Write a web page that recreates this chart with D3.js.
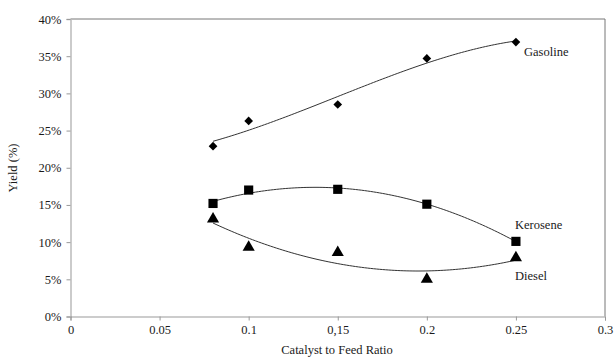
<!DOCTYPE html>
<html><head><meta charset="utf-8">
<script src="https://cdn.jsdelivr.net/npm/d3@7"></script>
<style>body{margin:0;background:#fff}svg{display:block}</style>
</head><body><svg id="c" width="614" height="358"></svg>
<script>
const ratios = [0.08, 0.1, 0.15, 0.2, 0.25];
const gasoline = [22.9, 26.3, 28.5, 34.7, 36.9];
const kerosene = [15.2, 17.0, 17.1, 15.1, 10.1];
const diesel = [13.1, 9.3, 8.6, 5.0, 7.9];
const xTicks = [0, 0.05, 0.1, 0.15, 0.2, 0.25, 0.3];
const xTickLabels = ["0", "0.05", "0.1", "0,15", "0.2", "0.25", "0.3"];
const yTicks = [0, 5, 10, 15, 20, 25, 30, 35, 40];
const seriesNames = ["Gasoline", "Kerosene", "Diesel"];
const fitOrders = [3, 2, 2];

const FONT = "'Liberation Serif', 'Times New Roman', serif";
const svg = d3.select("#c").style("font-family", FONT);
const x = d3.scaleLinear().domain([0, 0.3]).range([70.5, 605]);
const y = d3.scaleLinear().domain([0, 40]).range([316.5, 19]);

function polyfit(xs, ys, n) {
  const m = n + 1;
  const A = Array.from({length: m}, () => new Array(m + 1).fill(0));
  for (let r = 0; r < m; r++) {
    for (let c = 0; c < m; c++) A[r][c] = d3.sum(xs, v => Math.pow(v, r + c));
    A[r][m] = d3.sum(xs, (v, i) => Math.pow(v, r) * ys[i]);
  }
  for (let i = 0; i < m; i++) {
    let p = i;
    for (let k = i + 1; k < m; k++) if (Math.abs(A[k][i]) > Math.abs(A[p][i])) p = k;
    [A[i], A[p]] = [A[p], A[i]];
    for (let k = 0; k < m; k++) if (k !== i) {
      const f = A[k][i] / A[i][i];
      for (let c = i; c <= m; c++) A[k][c] -= f * A[i][c];
    }
  }
  const coef = A.map((row, i) => row[m] / row[i]);
  return v => coef.reduce((s, c, i) => s + c * Math.pow(v, i), 0);
}

// frame
svg.append("line").attr("x1", x(0)).attr("x2", x(0.3)).attr("y1", y(40)).attr("y2", y(40)).attr("stroke", "#777");
svg.append("line").attr("x1", x(0.3)).attr("x2", x(0.3)).attr("y1", y(40)).attr("y2", y(0)).attr("stroke", "#777");

function styleText(sel) {
  sel.attr("font-family", FONT).style("font-family", FONT).style("font-size", "12.5px").attr("fill", "#1a1a1a");
}

const yAxis = svg.append("g").attr("transform", `translate(${x(0)},0)`)
  .call(d3.axisLeft(y).tickValues(yTicks).tickFormat(d => d + "%").tickSize(4).tickPadding(5));
yAxis.attr("font-family", FONT);
yAxis.select(".domain").attr("stroke", "#bbb").attr("stroke-width", 1.5);
yAxis.selectAll(".tick line").attr("stroke", "#999");
styleText(yAxis.selectAll("text"));

const xAxis = svg.append("g").attr("transform", `translate(0,${y(0)})`)
  .call(d3.axisBottom(x).tickValues(xTicks).tickFormat((d, i) => xTickLabels[i]).tickSize(4).tickPadding(5));
xAxis.attr("font-family", FONT);
xAxis.select(".domain").attr("stroke", "#999");
xAxis.selectAll(".tick line").attr("stroke", "#999");
styleText(xAxis.selectAll("text"));

styleText(svg.append("text").attr("x", 337).attr("y", 354).attr("text-anchor", "middle").text("Catalyst to Feed Ratio"));
styleText(svg.append("text").attr("transform", "translate(17,168) rotate(-90)").attr("text-anchor", "middle").text("Yield (%)"));

const allSeries = [gasoline, kerosene, diesel];
const line = d3.line();
allSeries.forEach((vals, si) => {
  const f = polyfit(ratios, vals, fitOrders[si]);
  const xs = d3.range(0, 101).map(i => 0.08 + (0.25 - 0.08) * i / 100);
  svg.append("path").attr("d", line(xs.map(v => [x(v), y(f(v))])))
    .attr("fill", "none").attr("stroke", "#333").attr("stroke-width", 1);
});

const symbols = [d3.symbolDiamond2, d3.symbolSquare, d3.symbolTriangle];
const sizes = [48, 84, 64];
allSeries.forEach((vals, si) => {
  svg.append("g").selectAll("path").data(vals).join("path")
    .attr("transform", (d, i) => `translate(${x(ratios[i])},${y(d)})`)
    .attr("d", d3.symbol().type(symbols[si]).size(sizes[si]))
    .attr("fill", "#000");
});

const labelPos = [[524, 56], [515, 229], [515, 280]];
seriesNames.forEach((n, i) => {
  styleText(svg.append("text").attr("x", labelPos[i][0]).attr("y", labelPos[i][1]).text(n));
});
</script></body></html>
